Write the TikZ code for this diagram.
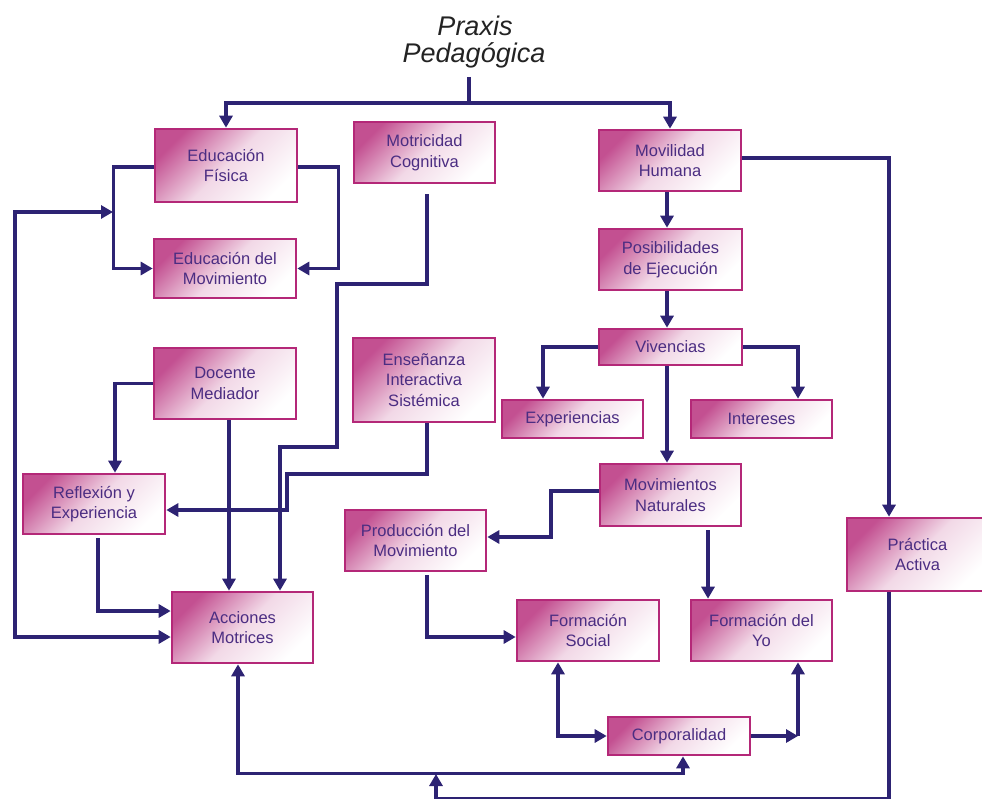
\documentclass[tikz,border=0pt]{standalone}
\usepackage{fontspec}
\setmainfont{Liberation Sans}
\usetikzlibrary{arrows.meta}
\definecolor{navy}{RGB}{45,35,115}
\definecolor{boxline}{RGB}{180,40,120}
\definecolor{boxpink}{RGB}{195,80,145}
\definecolor{txt}{RGB}{75,45,130}
\definecolor{titletxt}{RGB}{35,35,35}
\begin{document}
\begin{tikzpicture}[x=1pt,y=-1pt,
  >={Triangle[length=12pt,width=13pt]},
  box/.style={draw=boxline, line width=2.6pt, top color=boxpink, bottom color=white,
    middle color=boxpink!22!white, shading angle=45, text=txt,
    font=\fontsize{16.5}{20.5}\selectfont, align=center, inner sep=2pt},
  conn/.style={draw=navy, line width=3.5pt},
  ttl/.style={font=\fontsize{27}{27}\selectfont\itshape, text=titletxt, inner sep=0pt}]
\useasboundingbox (0,0) rectangle (982,799);

% title
\node[ttl, anchor=base] (t1) at (475,35.5) {Praxis};
\node[ttl, anchor=base] (t2) at (474,62.5) {Pedagógica};

% boxes
\node[box, minimum width=142, minimum height=73] (ef) at (226,165.5) {Educación\\Física};
\node[box, minimum width=141, minimum height=61] (mc) at (424.5,152.5) {Motricidad\\Cognitiva};
\node[box, minimum width=142, minimum height=61] (mh) at (670,160.5) {Movilidad\\Humana};
\node[box, minimum width=142, minimum height=59] (em) at (225,268.5) {Educación del\\Movimiento};
\node[box, minimum width=143, minimum height=61] (pe) at (670.5,259.5) {Posibilidades\\de Ejecución};
\node[box, minimum width=143, minimum height=36] (vi) at (670.5,347) {Vivencias};
\node[box, minimum width=141, minimum height=38] (ex) at (572.5,419) {Experiencias};
\node[box, minimum width=141, minimum height=38] (in) at (761.5,419) {Intereses};
\node[box, minimum width=142, minimum height=71] (dm) at (225,383.5) {Docente\\Mediador};
\node[box, minimum width=142, minimum height=84] (ei) at (424,380) {Enseñanza\\Interactiva\\Sistémica};
\node[box, minimum width=142, minimum height=60] (re) at (94,504) {Reflexión y\\Experiencia};
\node[box, minimum width=141, minimum height=62] (mn) at (670.5,495) {Movimientos\\Naturales};
\node[box, minimum width=141, minimum height=61] (pm) at (415.5,540.5) {Producción del\\Movimiento};
\node[box, minimum width=141, minimum height=73] (pa) at (917.5,554.5) {Práctica\\Activa};
\node[box, minimum width=141, minimum height=71] (am) at (242.5,627.5) {Acciones\\Motrices};
\node[box, minimum width=142, minimum height=61] (fs) at (588,630.5) {Formación\\Social};
\node[box, minimum width=141, minimum height=61] (fy) at (761.5,630.5) {Formación del\\Yo};
\node[box, minimum width=142, minimum height=38] (co) at (679,736) {Corporalidad};

% title connectors
\coordinate (tb) at (469,77);
\coordinate (tj) at (469,103);
\draw[conn] (tb) -- (tj);
\draw[conn,->] (tj) -| (ef.north);
\draw[conn,->] (tj) -| (mh.north);

% Educacion Fisica -> Educacion del Movimiento
\draw[conn,->] ([yshift=-1.5pt]ef.west) -- ++(-40,0) |- (em.west);
\draw[conn,->] ([yshift=-1.5pt]ef.east) -- ++(40,0) |- (em.east);

% big left loop
\coordinate (lj) at (113,212);
\draw[conn,<->] ([yshift=-9.5pt]am.west) -| (15,212) -- (lj);

% Motricidad Cognitiva -> Acciones
\draw[conn,->] ([xshift=2.5pt,yshift=-10pt]mc.south) -- (427,284) -- (337,284) -- (337,447) -- (280,447) -- ([xshift=37.5pt]am.north);

% Docente
\coordinate (dms) at ([xshift=4pt]dm.south);
\draw[conn,->] (dms) -- (dms |- am.north);
\draw[conn,->] (dm.west) -| ([xshift=21pt]re.north);

% Ensenanza -> Reflexion
\draw[conn,->] ([xshift=3pt]ei.south) -- (427,474) -- (287,474) -- (287,510) -- ([yshift=-6pt]re.east);

% Reflexion -> Acciones
\draw[conn,->] ([xshift=4pt,yshift=-3pt]re.south) |- ([yshift=16.5pt]am.west);

% right column
\draw[conn,->] ([xshift=-3pt]mh.south) -- ([xshift=-3.5pt]pe.north);
\draw[conn,->] ([xshift=-3.5pt]pe.south) -- ([xshift=-3.5pt]vi.north);
\draw[conn,->] (vi.west) -| ([xshift=-29.5pt]ex.north);
\draw[conn,->] (vi.east) -| ([xshift=36.5pt]in.north);
\draw[conn,->] ([xshift=-3.5pt]vi.south) -- ([xshift=-3.5pt]mn.north);
\draw[conn,->] ([yshift=4pt]mn.west) -- (551,491) -- (551,537) -- ([yshift=3.5pt]pm.east);
\coordinate (mns) at ([xshift=37.5pt,yshift=-3pt]mn.south);
\draw[conn,->] (mns) -- (mns |- fy.north);
\draw[conn,->] ([yshift=2.5pt]mh.east) -| ([xshift=-28.5pt]pa.north);

% Produccion -> Formacion Social
\draw[conn,->] ([xshift=11.5pt,yshift=-3pt]pm.south) |- ([yshift=-6.5pt]fs.west);

% Corporalidad links
\draw[conn,<->] ([xshift=-30pt]fs.south) |- (co.west);
\coordinate (cr) at (798,736);
\draw[conn,->] (co.east) -- (cr);
\draw[conn,->] (cr) -- (cr |- fy.south);

% bottom loops
\coordinate (ams) at ([xshift=-4.5pt]am.south);
\coordinate (cos) at ([xshift=4pt]co.south);
\draw[conn,<->] (ams) -- ++(0,109) -| (cos);
\coordinate (bj) at (436,774);
\draw[conn,->] ([xshift=-28.5pt]pa.south) -- ++(0,206) -| (bj);
\end{tikzpicture}
\end{document}
